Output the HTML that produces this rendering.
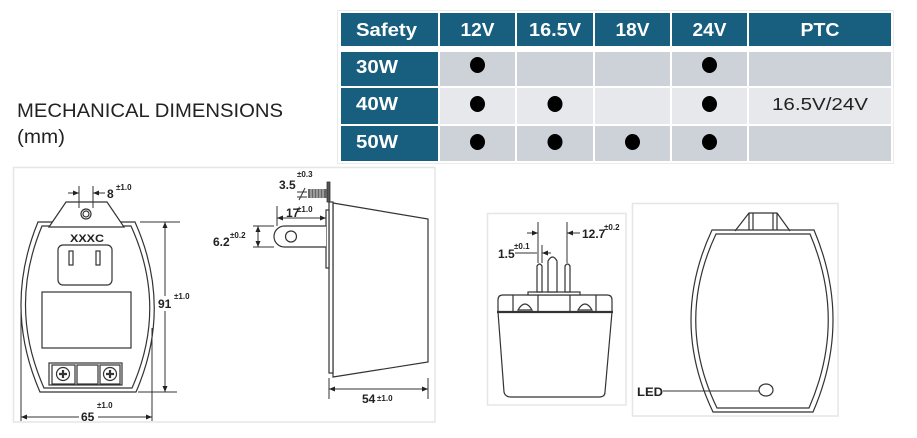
<!DOCTYPE html>
<html><head><meta charset="utf-8">
<style>
html,body{margin:0;padding:0;background:#fff;}
svg{display:block;font-family:"Liberation Sans",Arial,sans-serif;}
</style></head>
<body>
<svg width="917" height="438" viewBox="0 0 917 438" xmlns="http://www.w3.org/2000/svg">
<defs>
<marker id="a" viewBox="0 0 6 5" refX="6" refY="2.5" markerWidth="6" markerHeight="5" markerUnits="userSpaceOnUse" orient="auto-start-reverse">
<path d="M0,0 L6,2.5 L0,5 Z" fill="#222"/>
</marker>
</defs>

<!-- Heading -->
<text x="17" y="117" font-size="19.5" fill="#222" textLength="266" lengthAdjust="spacingAndGlyphs">MECHANICAL DIMENSIONS</text>
<text x="17" y="143" font-size="19.5" fill="#222" textLength="48" lengthAdjust="spacingAndGlyphs">(mm)</text>

<!-- Table -->
<rect x="337.5" y="10.5" width="556" height="153" fill="none" stroke="#ececec"/>
<g fill="#175e7f">
<rect x="341" y="13" width="97" height="33"/>
<rect x="440" y="13" width="75" height="33"/>
<rect x="517" y="13" width="76" height="33"/>
<rect x="595" y="13" width="75" height="33"/>
<rect x="672" y="13" width="75" height="33"/>
<rect x="749" y="13" width="142" height="33"/>
<rect x="341" y="52" width="97" height="34"/>
<rect x="341" y="88" width="97" height="36"/>
<rect x="341" y="126" width="97" height="35"/>
</g>
<g fill="#cdd1d8">
<rect x="440" y="52" width="75" height="34"/>
<rect x="517" y="52" width="76" height="34"/>
<rect x="595" y="52" width="75" height="34"/>
<rect x="672" y="52" width="75" height="34"/>
<rect x="749" y="52" width="142" height="34"/>
<rect x="440" y="126" width="75" height="35"/>
<rect x="517" y="126" width="76" height="35"/>
<rect x="595" y="126" width="75" height="35"/>
<rect x="672" y="126" width="75" height="35"/>
<rect x="749" y="126" width="142" height="35"/>
</g>
<g fill="#e6e8eb">
<rect x="440" y="88" width="75" height="36"/>
<rect x="517" y="88" width="76" height="36"/>
<rect x="595" y="88" width="75" height="36"/>
<rect x="672" y="88" width="75" height="36"/>
<rect x="749" y="88" width="142" height="36"/>
</g>
<g fill="#fff" font-weight="bold" font-size="18.5">
<text x="356" y="36" textLength="61" lengthAdjust="spacingAndGlyphs">Safety</text>
<text x="477.5" y="36" text-anchor="middle" textLength="34" lengthAdjust="spacingAndGlyphs">12V</text>
<text x="555" y="36" text-anchor="middle" textLength="52" lengthAdjust="spacingAndGlyphs">16.5V</text>
<text x="632.5" y="36" text-anchor="middle" textLength="34" lengthAdjust="spacingAndGlyphs">18V</text>
<text x="709.5" y="36" text-anchor="middle" textLength="34" lengthAdjust="spacingAndGlyphs">24V</text>
<text x="820" y="36" text-anchor="middle" textLength="39" lengthAdjust="spacingAndGlyphs">PTC</text>
<text x="356" y="73" textLength="42" lengthAdjust="spacingAndGlyphs">30W</text>
<text x="356" y="110" textLength="42" lengthAdjust="spacingAndGlyphs">40W</text>
<text x="356" y="148" textLength="42" lengthAdjust="spacingAndGlyphs">50W</text>
</g>
<g fill="#000">
<ellipse cx="477.5" cy="65" rx="7.5" ry="8"/>
<ellipse cx="709.5" cy="65" rx="7.5" ry="8"/>
<ellipse cx="477.5" cy="104" rx="7.5" ry="8"/>
<ellipse cx="555" cy="104" rx="7.5" ry="8"/>
<ellipse cx="709.5" cy="104" rx="7.5" ry="8"/>
<ellipse cx="477.5" cy="142" rx="7.5" ry="8"/>
<ellipse cx="555" cy="142" rx="7.5" ry="8"/>
<ellipse cx="632.5" cy="142" rx="7.5" ry="8"/>
<ellipse cx="709.5" cy="142" rx="7.5" ry="8"/>
</g>
<text x="820" y="110" text-anchor="middle" font-size="17.5" fill="#222" textLength="96" lengthAdjust="spacingAndGlyphs">16.5V/24V</text>

<!-- Panels -->
<g fill="none" stroke="#e6e6e6" stroke-width="1.5">
<rect x="13.5" y="167.5" width="421.5" height="254.5"/>
<rect x="487.5" y="213.5" width="138.5" height="191.5"/>
<rect x="632.5" y="203.5" width="205.5" height="212.5"/>
</g>

<!-- Drawing 1: front view -->
<g fill="none" stroke="#333" stroke-width="1.2">
<path d="M38,222 L135,222 Q173,307 136,392 L40,392 Q3,307 38,222 Z" fill="#fff"/>
<path d="M42,226 L131,226 Q168,307 132,388 L44,388 Q8,307 42,226 Z"/>
<path d="M49,227 L66,202 L107,202 L124,227 Z" fill="#fff"/>
<circle cx="86" cy="214" r="5"/>
<circle cx="86" cy="214" r="3"/>
<rect x="58" y="245" width="54" height="40" rx="5"/>
<rect x="69" y="251" width="4" height="14"/>
<rect x="96" y="251" width="4" height="14"/>
<rect x="42" y="292" width="89" height="56"/>
<rect x="49" y="363" width="73" height="22" fill="#fff"/>
<rect x="52" y="365" width="23" height="19"/>
<rect x="77" y="365" width="21" height="19"/>
<rect x="100" y="365" width="20" height="19"/>
<circle cx="63" cy="374" r="6.5"/>
<circle cx="110" cy="374" r="6.5"/>
<path d="M59,374 H67 M63,370 V378 M106,374 H114 M110,370 V378" stroke-width="2.2"/>
<!-- dims -->
<path d="M79,186 V208 M93,186 V208" stroke-width="1"/>
<path d="M68,193 L79,193" stroke-width="1" marker-end="url(#a)"/>
<path d="M105,193 L93,193" stroke-width="1" marker-end="url(#a)"/>
<path d="M140,222 H180 M138,392 H177" stroke-width="1"/>
<path d="M165,296 V222" stroke-width="1" marker-end="url(#a)"/>
<path d="M165,311 V392" stroke-width="1" marker-end="url(#a)"/>
<path d="M21,312 V421 M152,328 V421" stroke-width="1"/>
<path d="M79,417 H21" stroke-width="1" marker-end="url(#a)"/>
<path d="M98,417 H152" stroke-width="1" marker-end="url(#a)"/>
</g>
<g fill="#222" font-weight="bold">
<text x="87" y="242" font-size="11" text-anchor="middle" textLength="34" lengthAdjust="spacingAndGlyphs">XXXC</text>
<text x="107" y="198" font-size="12">8</text>
<text x="116" y="190" font-size="8">±1.0</text>
<text x="158" y="308" font-size="12">91</text>
<text x="174" y="299" font-size="8">±1.0</text>
<text x="81" y="421" font-size="12">65</text>
<text x="97" y="408" font-size="8">±1.0</text>
</g>

<!-- Drawing 2: side view -->
<g fill="none" stroke="#333" stroke-width="1.2">
<path d="M333,203 L428,219 L428,362 L333,377 Z" fill="#fff"/>
<rect x="329" y="202" width="4" height="171" fill="#fff"/>
<rect x="326" y="210" width="3" height="58" fill="#fff"/>
<path d="M326,226 L284.5,226 A10.5,10.5 0 0 0 284.5,247 L326,247" fill="#fff"/>
<circle cx="291" cy="236.5" r="5.5"/>
<rect x="327" y="182" width="3" height="20" fill="#555" stroke-width="0.8"/>
<path d="M297,192 H307 M297,197 H307 M299,200 L305,188" stroke-width="1"/>
<path d="M277,206 V226 M253,226 H274 M253,247 H274 M329,378 V399 M428,378 V399" stroke-width="1"/>
<path d="M300,218 H277" stroke-width="1" marker-end="url(#a)"/>
<path d="M300,218 H326" stroke-width="1" marker-end="url(#a)"/>
<path d="M258,236 V226" stroke-width="1" marker-end="url(#a)"/>
<path d="M258,236 V247" stroke-width="1" marker-end="url(#a)"/>
<path d="M378,389 H329" stroke-width="1" marker-end="url(#a)"/>
<path d="M378,389 H428" stroke-width="1" marker-end="url(#a)"/>
</g>
<g fill="#666">
<rect x="308" y="189" width="19" height="9"/>
</g>
<g stroke="#ccc" stroke-width="1">
<path d="M311,189 V198 M314,189 V198 M317,189 V198 M320,189 V198 M323,189 V198"/>
</g>
<g fill="#222" font-weight="bold">
<text x="279" y="189" font-size="12">3.5</text>
<text x="297" y="177" font-size="8">±0.3</text>
<text x="286" y="217" font-size="12">17</text>
<text x="297" y="212" font-size="8">±1.0</text>
<text x="213" y="246" font-size="12">6.2</text>
<text x="230" y="238" font-size="8">±0.2</text>
<text x="362" y="403" font-size="12">54</text>
<text x="377" y="401" font-size="8">±1.0</text>
</g>

<!-- Drawing 3: bottom view -->
<g fill="none" stroke="#333" stroke-width="1.2">
<path d="M498,312 L504,392 Q505,397 511,397 L599,397 Q605,397 605,392 L612,312" fill="#fff"/>
<path d="M498,312 L498,300 Q498,295 503,295 L607,295 Q612,295 612,300 L612,312" fill="#fff"/>
<path d="M497,312 H613" stroke-width="2.2"/>
<path d="M513,295 V312 M596,295 V312 M538,295 V312 M570,295 V312"/>
<path d="M518,310 Q525,298 532,310 Z M578,310 Q585,298 592,310 Z"/>
<rect x="528" y="292" width="52" height="3" fill="#fff"/>
<path d="M537,292 V266 Q539.5,262 542,266 V292 Z" fill="#fff"/>
<path d="M548,292 V261 Q552.5,253 557,261 V292 Z" fill="#fff"/>
<path d="M565,292 V266 Q567.5,262 570,266 V292 Z" fill="#fff"/>
<path d="M538,222 V263 M542,245 V263 M567,222 V263" stroke-width="1"/>
<path d="M527,233 H538" stroke-width="1" marker-end="url(#a)"/>
<path d="M551,253 H542" stroke-width="1" marker-end="url(#a)"/>
<path d="M515,253 H537" stroke-width="1"/>
<path d="M580,233 H567" stroke-width="1" marker-end="url(#a)"/>
</g>
<g fill="#222" font-weight="bold">
<text x="498" y="258" font-size="12">1.5</text>
<text x="514" y="249" font-size="8">±0.1</text>
<text x="582" y="238" font-size="12">12.7</text>
<text x="604" y="230" font-size="8">±0.2</text>
</g>

<!-- Drawing 4: LED view -->
<g fill="none" stroke="#333" stroke-width="1.2">
<path d="M735,231 L749,213 L777,213 L790,231" fill="#fff"/>
<path d="M749,213 V230 M753,213 V230 M773,213 V230 M777,213 V230"/>
<path d="M712,230 L814,230 Q852.5,321 813,412 L713,412 Q669.5,321 712,230 Z"/>
<path d="M716,234 L810,234 Q847,321 809,408 L717,408 Q675,321 716,234 Z"/>
<ellipse cx="766" cy="390" rx="7" ry="6"/>
<path d="M663,391 H759" stroke-width="1"/>
</g>
<text x="637" y="396" font-size="11.5" font-weight="bold" fill="#222" textLength="26" lengthAdjust="spacingAndGlyphs">LED</text>
</svg>
</body></html>
